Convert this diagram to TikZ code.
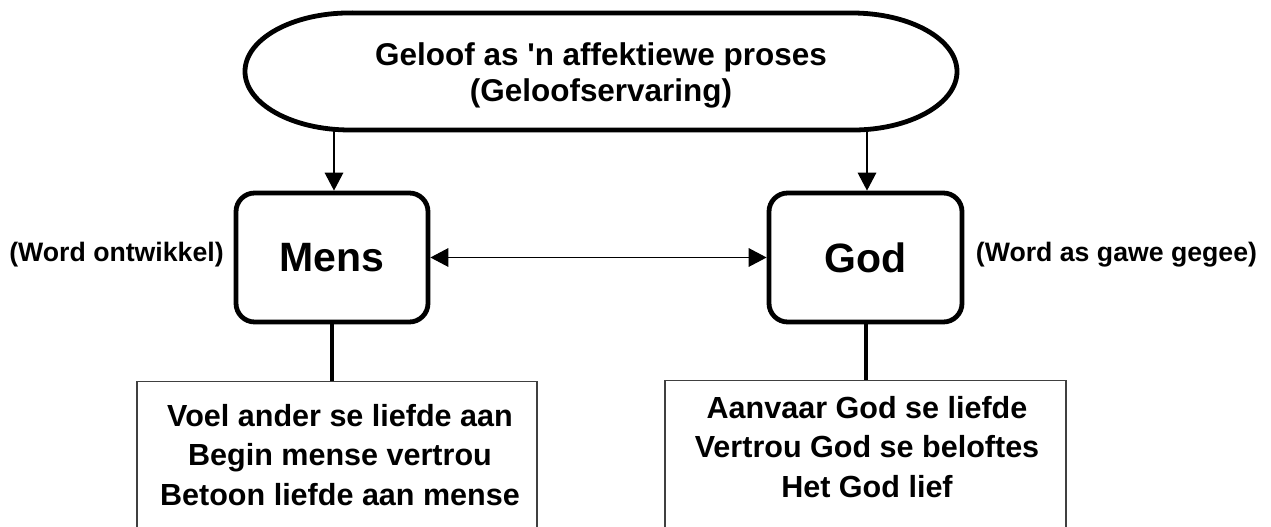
\documentclass[tikz,border=0pt]{standalone}
\usepackage{fontspec}
\setmainfont{Liberation Sans}[Ligatures=TeXOff]
\usetikzlibrary{arrows.meta}
\begin{document}
\begin{tikzpicture}[x=0.75pt,y=-0.75pt,
  lbl/.style={font=\bfseries\fontsize{20pt}{24pt}\selectfont, inner sep=0pt},
  ttl/.style={font=\bfseries\fontsize{23.6pt}{27pt}\selectfont, align=center, inner sep=0pt, anchor=north},
  mainbox/.style={draw, line width=3.6pt, rounded corners=14pt, minimum width=144pt,
    minimum height=96.75pt, font=\bfseries\fontsize{30.75pt}{36pt}\selectfont, inner sep=0pt},
  listbox/.style={draw=black!75, line width=1pt, minimum width=300pt, minimum height=150pt,
    anchor=north, inner sep=0pt},
  listtext/.style={font=\bfseries\fontsize{22.9pt}{29.6pt}\selectfont, align=center,
    anchor=north, inner sep=0pt},
  tip/.tip={Triangle[length=13.5pt,width=14pt]},
  thinarrow/.style={line width=0.9pt, -tip},
  twoarrow/.style={line width=0.9pt, tip-tip},
  link/.style={line width=3pt},
  outline/.style={line width=3.6pt}]
\useasboundingbox (0,0) rectangle (1271,527);
\clip (0,0) rectangle (1271,527);

% top terminator shape
\draw[outline] (350,13) -- (852,13)
  arc[start angle=90,end angle=0,x radius=78.75pt,y radius=43.9pt]
  arc[start angle=0,end angle=-90,x radius=78.75pt,y radius=43.9pt]
  -- (350,130)
  arc[start angle=270,end angle=180,x radius=78.75pt,y radius=43.9pt]
  arc[start angle=180,end angle=90,x radius=78.75pt,y radius=43.9pt]
  -- cycle;
\node[ttl] (title) at (601,42.7) {Geloof as 'n affektiewe proses\\(Geloofservaring)};
\coordinate (tl) at (334,130);
\coordinate (tr) at (867,130);

% main boxes
\node[mainbox] (mens) at (332,257.5) {Mens};
\node[mainbox, minimum width=144.75pt] (god) at (865.5,257.5) {God};

\draw[thinarrow] (tl) -- (tl |- mens.north);
\draw[thinarrow] (tr) -- (tr |- god.north);
\draw[twoarrow] (mens.east) -- (god.west);

% side labels
\node[lbl, anchor=base] (wl) at (116.5,262) {(Word ontwikkel)};
\node[lbl, anchor=base] (wr) at (1116.5,262) {(Word as gawe gegee)};

% list boxes
\node[listbox] (lbox) at (337,381) {};
\node[listbox, minimum width=300.75pt] (rbox) at (865.5,380) {};
\draw[link] (mens.south) -- (mens.south |- lbox.north);
\draw[link] (god.south) -- (god.south |- rbox.north);

\node[listtext] (ltext) at (340,404) {Voel ander se liefde aan\\Begin mense vertrou\\Betoon liefde aan mense};
\node[listtext] (rtext) at (867,396) {Aanvaar God se liefde\\Vertrou God se beloftes\\Het God lief};
\end{tikzpicture}
\end{document}
